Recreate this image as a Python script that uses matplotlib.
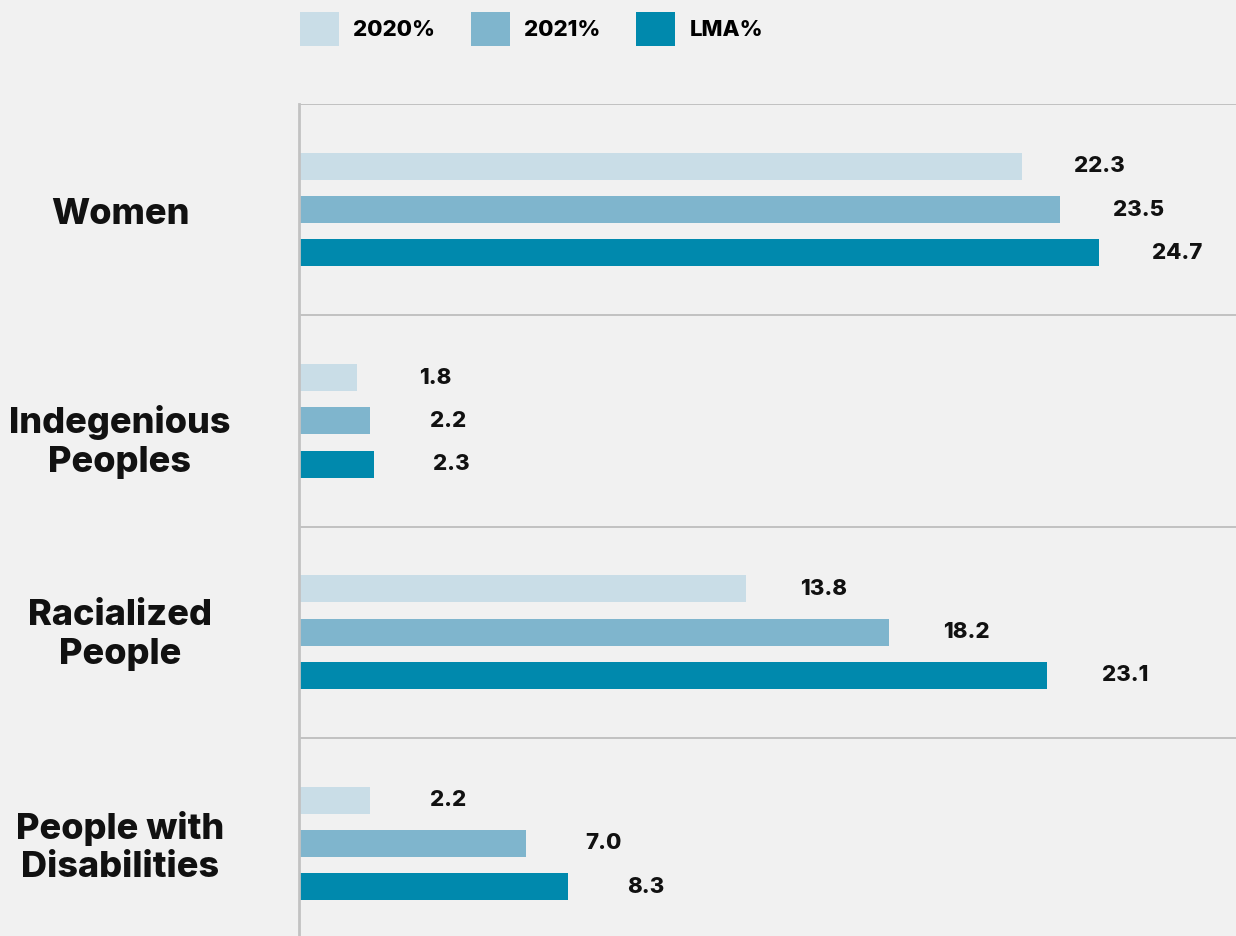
import numpy as np
import matplotlib.pyplot as plt
from matplotlib.patches import Patch
from matplotlib.transforms import blended_transform_factory

plt.rcParams['font.family'] = ['Inter', 'DejaVu Sans']

groups = ['Women', 'Indegenious\nPeoples', 'Racialized\nPeople', 'People with\nDisabilities']
series = ['2020%', '2021%', 'LMA%']
v2020 = [22.3, 1.8, 13.8, 2.2]
v2021 = [23.5, 2.2, 18.2, 7.0]
vlma = [24.7, 2.3, 23.1, 8.3]
colors = ['#c9dde7', '#7fb5cd', '#0089ad']
bg = '#f1f1f1'
W = 'heavy'

fig = plt.figure(figsize=(12.36, 9.36), dpi=100, facecolor=bg)
ax = fig.add_axes([299 / 1236, -13 / 936, 937 / 1236, 845 / 936], facecolor=bg)

y = np.arange(len(groups))
offsets = [-0.205, 0.0, 0.205]
for vals, off, c in zip([v2020, v2021, vlma], offsets, colors):
    ax.barh(y + off, vals, height=0.128, color=c, zorder=2)
    for yi, v in zip(y, vals):
        ax.text(v + 2.4, yi + off, f'{v:.1f}', ha='center', va='center',
                fontsize=16, fontweight=W, color='#111111')

ax.set_xlim(0, 937 / 32.4)
ax.set_ylim(len(groups) - 0.5, -0.5)

# separators between the groups
for b in np.arange(len(groups)) - 0.5:
    ax.axhline(b, color='#bdbdbd', lw=1.3, zorder=1)

for s in ['right', 'bottom', 'top']:
    ax.spines[s].set_visible(False)
ax.spines['left'].set_color('#c2c2c2')
ax.spines['left'].set_linewidth(2)
ax.set_xticks([])
ax.set_yticks([])

# group names sit left of the axis; second one is nudged down a bit
tr = blended_transform_factory(fig.transFigure, ax.transData)
nudge = [0.025, 0.1, 0.015, 0.02]
for yi, g, dy in zip(y, groups, nudge):
    ax.text(120 / 1236, yi + dy, g, transform=tr, ha='center', va='center',
            multialignment='center', fontsize=26, fontweight=W,
            linespacing=1.22, color='#111111')

handles = [Patch(facecolor=c, label=s) for c, s in zip(colors, series)]
leg = fig.legend(handles=handles, loc='upper left', bbox_to_anchor=(300 / 1236, 1 - 12 / 936),
                 ncol=3, frameon=False, borderpad=0, borderaxespad=0,
                 handlelength=1.75, handleheight=2.0, handletextpad=0.65,
                 columnspacing=1.6, prop={'size': 16, 'weight': W})

fig.savefig('out.png', dpi=100, facecolor=bg)
